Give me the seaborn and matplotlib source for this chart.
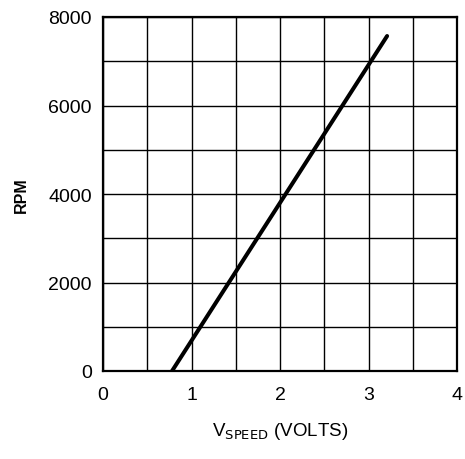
import matplotlib
matplotlib.use("Agg")
import matplotlib.pyplot as plt
import seaborn as sns
import pandas as pd
import numpy as np

v_speed = [0.78, 3.21]
rpm = [0, 7570]
x_ticks = [0, 1, 2, 3, 4]
y_ticks = [0, 2000, 4000, 6000, 8000]

sns.set_style("white")
plt.rcParams['font.family'] = ['Liberation Sans', 'DejaVu Sans']
plt.rcParams['text.color'] = 'black'
plt.rcParams['axes.labelcolor'] = 'black'
plt.rcParams['xtick.color'] = 'black'
plt.rcParams['ytick.color'] = 'black'

df = pd.DataFrame({"V": v_speed, "RPM": rpm})

fig = plt.figure(figsize=(4.65, 4.60), dpi=100)
ax = fig.add_axes([103/465, 1-372/460, 354/465, 354/460])

sns.lineplot(data=df, x="V", y="RPM", ax=ax, color="black", linewidth=2.9,
             solid_capstyle="round")

xt = np.arange(0, 4.01, 0.5)
yt = np.arange(0, 8001, 1000)
ax.set_xlim(0, 4)
ax.set_ylim(0, 8000)
ax.set_xticks(xt)
ax.set_yticks(yt)
ax.set_xticklabels([str(int(t)) if t in x_ticks else "" for t in xt])
ax.set_yticklabels([str(int(t)) if t in y_ticks else "" for t in yt])
ax.grid(True, color="black", linewidth=1.0)
ax.set_axisbelow(True)
ax.tick_params(length=0, labelsize=14, colors="black")
ax.tick_params(axis="x", pad=11)
ax.tick_params(axis="y", pad=8)
for s in ax.spines.values():
    s.set_color("black")
    s.set_linewidth(1.6)

ax.set_xlabel(r"V$_{\mathrm{SPEED}}$ (VOLTS)", fontsize=13.5, labelpad=12, color="black")
ax.set_ylabel("RPM", fontsize=11.5, labelpad=14, color="black", fontweight="bold")

fig.savefig("out.png", dpi=100)
